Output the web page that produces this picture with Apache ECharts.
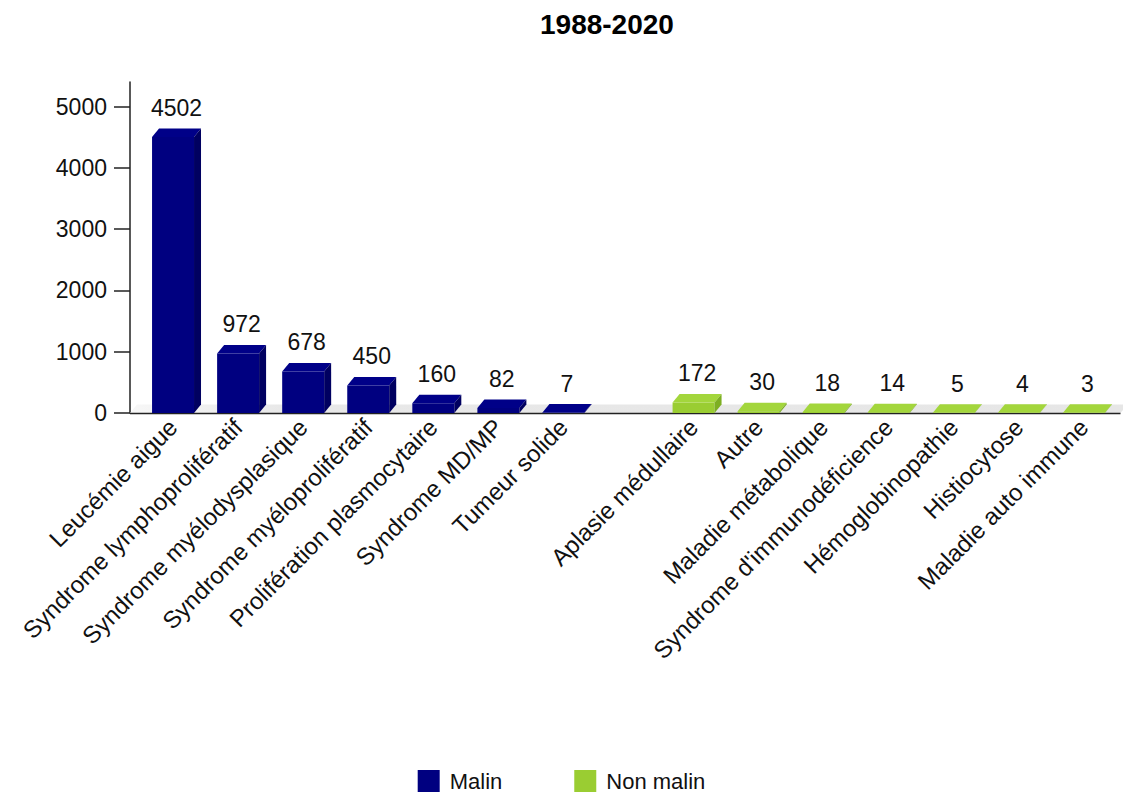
<!DOCTYPE html>
<html>
<head>
<meta charset="utf-8">
<script src="https://cdn.jsdelivr.net/npm/echarts@6/dist/echarts.min.js"></script>
<style>html,body{margin:0;padding:0;background:#fff}#c{width:1123px;height:796px}</style>
</head>
<body>
<div id="c"></div>
<script>
var titleText = '1988-2020';
var malinCategories = ['Leucémie aigue', 'Syndrome lymphoprolifératif', 'Syndrome myélodysplasique', 'Syndrome myéloprolifératif', 'Prolifération plasmocytaire', 'Syndrome MD/MP', 'Tumeur solide'];
var malinValues = [4502, 972, 678, 450, 160, 82, 7];
var nonMalinCategories = ['Aplasie médullaire', 'Autre', 'Maladie métabolique', "Syndrome d'immunodéficience", 'Hémoglobinopathie', 'Histiocytose', 'Maladie auto immune'];
var nonMalinValues = [172, 30, 18, 14, 5, 4, 3];
var yTicks = [0, 1000, 2000, 3000, 4000, 5000];

var categories = malinCategories.concat([''], nonMalinCategories);
var malinData = malinValues.map(function (v, i) { return [i, v]; });
var nonMalinData = nonMalinValues.map(function (v, i) { return [malinCategories.length + 1 + i, v]; });

var FONT = '"Liberation Sans", Arial, sans-serif';
var DX = 7, DY = 8.5;

function makeRender(front, topC, side) {
  return function (params, api) {
    var idx = api.value(0), v = api.value(1);
    var base = api.coord([idx, 0]);
    var top = api.coord([idx, v]);
    var slot = api.size([1, 0])[0];
    var w = slot * 0.645;
    var x0 = base[0] - w / 2, x1 = base[0] + w / 2;
    var yb = base[1], yt = top[1];
    return {
      type: 'group',
      children: [
        { type: 'rect', shape: { x: x0, y: yt, width: w, height: yb - yt }, style: { fill: front } },
        { type: 'polygon', shape: { points: [[x0, yt], [x1, yt], [x1 + DX, yt - DY], [x0 + DX, yt - DY]] }, style: { fill: topC } },
        { type: 'polygon', shape: { points: [[x1, yt], [x1 + DX, yt - DY], [x1 + DX, yb - DY], [x1, yb]] }, style: { fill: side } },
        { type: 'text', x: base[0] + DX / 2, y: yt - DY - 9, style: { text: String(v), fill: '#111', font: '23px ' + FONT, align: 'center', verticalAlign: 'bottom' } }
      ]
    };
  };
}

function renderFloor(params, api) {
  var cs = params.coordSys;
  var xl = cs.x - 10.5, xr = cs.x + cs.width + 4;
  var yb = cs.y + cs.height;
  return {
    type: 'group',
    children: [
      { type: 'polygon', shape: { points: [[xl, yb], [xr, yb], [xr + DX, yb - DY], [xl + DX, yb - DY]] },
        style: { fill: { type: 'linear', x: 0, y: 0, x2: 1, y2: 0, colorStops: [{ offset: 0, color: '#f7f7f7' }, { offset: 0.15, color: '#e8e8e8' }, { offset: 1, color: '#e6e6e6' }] } } },
      { type: 'line', shape: { x1: xl, y1: yb + 0.5, x2: xr, y2: yb + 0.5 }, style: { stroke: '#222', lineWidth: 1.5 } }
    ]
  };
}

var chart = echarts.init(document.getElementById('c'), null, { renderer: 'svg' });
chart.setOption({
  animation: false,
  color: ['#000080', '#9ACD32'],
  title: { text: titleText, left: 535, top: 5, textStyle: { fontFamily: FONT, fontSize: 28, fontWeight: 'bold', color: '#000' } },
  legend: {
    data: ['Malin', 'Non malin'], top: 765, left: 'center', icon: 'rect', itemWidth: 22, itemHeight: 22, itemGap: 72,
    textStyle: { fontFamily: FONT, fontSize: 22, color: '#111', padding: [0, 0, 0, 5] }
  },
  grid: { left: 140.5, right: 6.5, top: 82, bottom: 383 },
  xAxis: {
    type: 'category', data: categories,
    axisLine: { show: false }, axisTick: { show: false },
    axisLabel: { interval: 0, rotate: 45, margin: 10, fontFamily: FONT, fontSize: 24, color: '#111' }
  },
  yAxis: {
    type: 'value', min: 0, max: 5400, interval: 1000, offset: 10.5,
    splitLine: { show: false },
    axisLine: { show: true, lineStyle: { color: '#222', width: 1.5 } },
    axisTick: { show: true, length: 16, customValues: yTicks, lineStyle: { color: '#222', width: 1.5 } },
    axisLabel: { margin: 23, customValues: yTicks, formatter: function (v) { return String(v); }, fontFamily: FONT, fontSize: 23, color: '#111' }
  },
  series: [
    { name: 'floor', type: 'custom', renderItem: renderFloor, data: [[0, 0]], z: 1, silent: true, legendHoverLink: false },
    { name: 'Malin', type: 'custom', renderItem: makeRender('#000080', '#000088', '#000060'), data: malinData, itemStyle: { color: '#000080' }, z: 2 },
    { name: 'Non malin', type: 'custom', renderItem: makeRender('#9ACD32', '#a3d63c', '#7daf22'), data: nonMalinData, itemStyle: { color: '#9ACD32' }, z: 2 }
  ]
});
</script>
</body>
</html>
